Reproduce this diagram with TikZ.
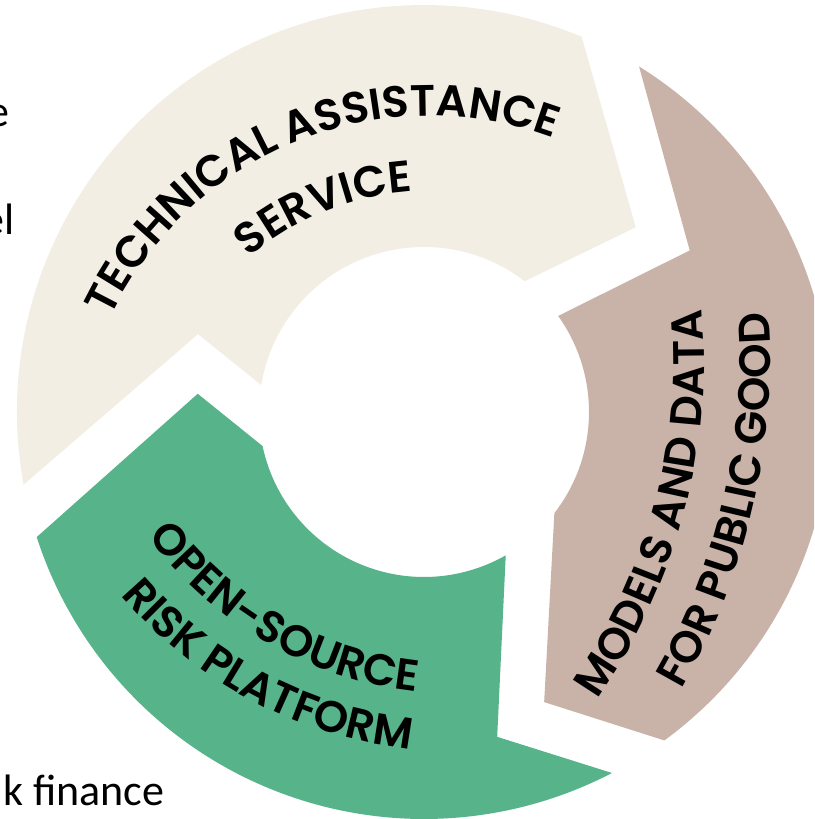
\documentclass[tikz,border=0pt]{standalone}
\usepackage{fontspec}
\setmainfont{Carlito}
\IfFontExistsTF{Poppins SemiBold}
  {\newfontfamily\labfont{Poppins SemiBold}}
  {\newfontfamily\labfont{Poppins}[UprightFont=*-Bold]}
\usetikzlibrary{decorations.text}

\definecolor{beigefill}{RGB}{243,238,228}
\definecolor{clayfill}{RGB}{201,178,168}
\definecolor{sagefill}{RGB}{87,179,137}

\tikzset{
  arclabel/.style={decorate, decoration={text along path, text align=center, text={|\labfont\fontsize{44}{44}\selectfont|#1}}},
  slidetext/.style={inner sep=0pt, font=\fontsize{44}{44}\selectfont}
}

\begin{document}
\begin{tikzpicture}[x=1pt,y=1pt]
\useasboundingbox (-424,-407) rectangle (390,412);
\clip (-424,-407) rectangle (390,412);

% three ring segments, each with a chevron head and a notched tail
\fill[beigefill] (190.3:407pt) arc[start angle=190.3, end angle=67.2, radius=407pt]
  -- (41.1:281pt) -- (52.4:165pt) arc[start angle=52.4, end angle=170.6, radius=165pt]
  -- (161:239pt) -- cycle;
\fill[clayfill] (58.1:407pt) arc[start angle=58.1, end angle=-53.8, radius=407pt]
  -- (-67.5:314pt) -- (-37.8:165pt) arc[start angle=-37.8, end angle=35.6, radius=165pt]
  -- (31.3:311pt) -- cycle;
\fill[sagefill] (-62.5:407pt) arc[start angle=-62.5, end angle=-162.1, radius=407pt]
  -- (-184.6:227pt) -- (-168.1:165pt) arc[start angle=-168.1, end angle=-60.3, radius=165pt]
  -- (-77.3:333pt) -- cycle;

% curved labels
\path[arclabel={TECHNICAL ASSISTANCE}] ([shift={(6,-58)}]172:354pt) arc[start angle=172, end angle=52, radius=354pt];
\path[arclabel={SERVICE}] ([shift={(6,-58)}]172:279pt) arc[start angle=172, end angle=52, radius=279pt];

\path[arclabel={OPEN-SOURCE}] ([shift={(36,106)}]180:388pt) arc[start angle=180, end angle=300, radius=388pt];
\path[arclabel={RISK PLATFORM}] ([shift={(36,106)}]182:446pt) arc[start angle=182, end angle=302, radius=446pt];

\path[arclabel={MODELS AND DATA}] ([shift={(-312,52)}]-55:592pt) arc[start angle=-55, end angle=25, radius=592pt];
\path[arclabel={FOR PUBLIC GOOD}] ([shift={(-310,52)}]-53:656pt) arc[start angle=-53, end angle=27, radius=656pt];

% fragments of surrounding slide text
\node[slidetext, anchor=base east] (t1) at (-414,285) {e};
\node[slidetext, anchor=base east] (t2) at (-409,177) {el};
\node[slidetext, anchor=base west] (t3) at (-421,-393) {k finance};
\end{tikzpicture}
\end{document}
